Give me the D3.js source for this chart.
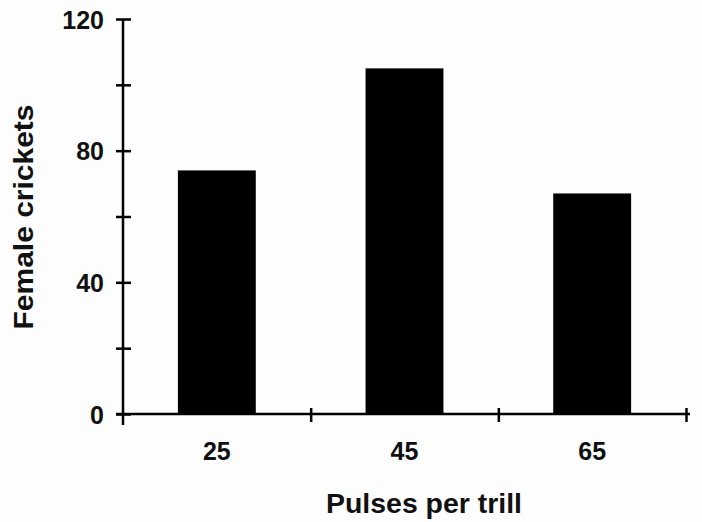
<!DOCTYPE html>
<html>
<head>
<meta charset="utf-8">
<script src="https://cdn.jsdelivr.net/npm/d3@7"></script>
<style>
  body { margin: 0; background: #fdfdfd; }
  text { font-family: "Liberation Sans", Arial, sans-serif; font-weight: bold; fill: #111; }
</style>
</head>
<body>
<div class="chart"></div>
<script>
const svgWidth = 702
const svgHeight = 522

// data
const pulses = ["25", "45", "65"]
const females = [74, 105, 67]
const majorTicks = [0, 40, 80, 120]
const minorTicks = [20, 60, 100]

let margin = { top: 19, right: 16, bottom: 108, left: 123 }
let width = svgWidth - margin.left - margin.right
let height = svgHeight - margin.top - margin.bottom

let svg = d3.select(".chart")
  .append("svg")
  .attr("width", svgWidth)
  .attr("height", svgHeight)

let chartGroup = svg.append("g")
  .attr("transform", `translate(${margin.left}, ${margin.top})`)

let x = d3.scaleBand()
  .domain(pulses)
  .range([0, width])
  .paddingInner(0.585)
  .paddingOuter(0.2925)

// scale for the tick marks between the categories
let edges = d3.scaleLinear().domain([0, pulses.length]).range([0, width])

let y = d3.scaleLinear().domain([0, 120]).range([height, 0])

// bars
chartGroup.selectAll("rect.bar")
  .data(pulses)
  .enter()
  .append("rect")
  .attr("class", "bar")
  .attr("x", d => x(d))
  .attr("width", x.bandwidth())
  .attr("y", (d, i) => y(females[i]))
  .attr("height", (d, i) => height - y(females[i]))
  .attr("fill", "#000")

// y axis
let yAxis = chartGroup.append("g")
  .call(d3.axisLeft(y).tickValues(majorTicks.concat(minorTicks)).tickSize(7).tickPadding(12)
    .tickFormat(d => majorTicks.includes(d) ? d : ""))
yAxis.select(".domain").remove()
yAxis.selectAll(".tick line").attr("x1", 8).attr("stroke", "#000").attr("stroke-width", 2.5)
yAxis.selectAll(".tick text").attr("font-size", 25).attr("dy", "0.36em")
yAxis.append("line")
  .attr("x1", 0).attr("x2", 0)
  .attr("y1", y(120)).attr("y2", y(0) + 11)
  .attr("stroke", "#000").attr("stroke-width", 2.5)

// x axis: tick marks at the edges
let xTicks = chartGroup.append("g")
  .attr("transform", `translate(0, ${height})`)
  .call(d3.axisBottom(edges).tickValues(d3.range(1, pulses.length + 1)).tickSize(8).tickFormat(""))
xTicks.select(".domain").remove()
xTicks.selectAll(".tick line").attr("y1", -6).attr("stroke", "#000").attr("stroke-width", 2.5)
xTicks.append("line")
  .attr("x1", -7).attr("x2", width + 4)
  .attr("y1", 0).attr("y2", 0)
  .attr("stroke", "#000").attr("stroke-width", 2.5)

// x axis: category labels
let xLabels = chartGroup.append("g")
  .attr("transform", `translate(0, ${height})`)
  .call(d3.axisBottom(x).tickSize(0).tickPadding(28))
xLabels.select(".domain").remove()
xLabels.selectAll(".tick text").attr("font-size", 25)

// axis titles
chartGroup.append("text")
  .attr("x", 301)
  .attr("y", height + 99)
  .attr("text-anchor", "middle")
  .attr("font-size", 27)
  .attr("textLength", 196)
  .attr("lengthAdjust", "spacingAndGlyphs")
  .text("Pulses per trill")

chartGroup.append("text")
  .attr("transform", "rotate(-90)")
  .attr("x", -198)
  .attr("y", -90)
  .attr("text-anchor", "middle")
  .attr("font-size", 28)
  .attr("textLength", 225)
  .attr("lengthAdjust", "spacingAndGlyphs")
  .text("Female crickets")
</script>
</body>
</html>
